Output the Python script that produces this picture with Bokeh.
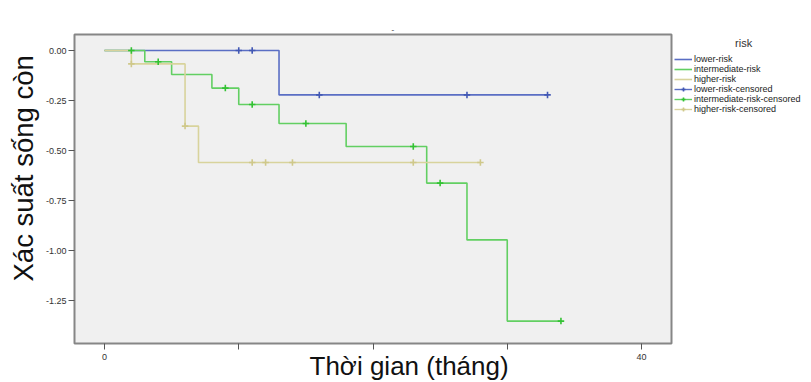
import math
from bokeh.plotting import figure
from bokeh.models import (Range1d, FixedTicker, NumeralTickFormatter, Title,
                          Legend, LegendItem)
from bokeh.embed import file_html
from bokeh.resources import INLINE

# ---- data ----
low_t = [0, 13, 33]
low_s = [0.0, -0.222, -0.222]
low_ct = [10, 11, 16, 27, 33]
low_cs = [0.0, 0.0, -0.222, -0.222, -0.222]

mid_t = [0, 3, 5, 8, 10, 13, 18, 24, 27, 30, 34]
mid_s = [0.0, -0.056, -0.12, -0.188, -0.27, -0.365, -0.48, -0.663, -0.947, -1.353, -1.353]
mid_ct = [2, 4, 9, 11, 15, 23, 25, 34]
mid_cs = [0.0, -0.056, -0.188, -0.27, -0.365, -0.48, -0.663, -1.353]

high_t = [0, 2, 6, 7, 28]
high_s = [0.0, -0.067, -0.378, -0.56, -0.56]
high_ct = [2, 6, 11, 12, 14, 23, 28]
high_cs = [-0.067, -0.378, -0.56, -0.56, -0.56, -0.56, -0.56]

x_ticks = [0, 10, 20, 30, 40]
y_ticks = [0.0, -0.25, -0.5, -0.75, -1.0, -1.25]

series_names = ["lower-risk", "intermediate-risk", "higher-risk"]
line_colors = ["#5a6ec4", "#62cf62", "#d8d39c"]
mark_colors = ["#4258b4", "#33c233", "#cfc88a"]

FONT = "Liberation Sans"
NAN = float("nan")

p = figure(frame_width=597, frame_height=309, output_backend="svg",
           toolbar_location=None,
           x_range=Range1d(-2.235, 42.235), y_range=Range1d(-1.465, 0.08),
           min_border_left=74, min_border_top=34, min_border_right=140,
           min_border_bottom=39)
p.background_fill_color = "#f0f0f0"
p.border_fill_color = "white"
p.outline_line_color = "#868686"
p.outline_line_width = 2
p.grid.visible = False

p.title.text = "-"
p.title.align = "left"
p.title.offset = 317
p.title.standoff = 6
p.title.text_font = FONT
p.title.text_font_size = "8px"
p.title.text_color = "#777777"

for ax in (p.xaxis[0], p.yaxis[0]):
    ax.axis_line_color = None
    ax.major_tick_in = 0
    ax.major_tick_out = 6
    ax.major_tick_line_color = "#555555"
    ax.minor_tick_line_color = None
    ax.major_label_text_font = FONT
    ax.major_label_text_font_size = "9px"
    ax.major_label_text_color = "#333333"
    ax.major_label_standoff = 2

p.xaxis.ticker = FixedTicker(ticks=x_ticks)
p.xaxis.major_label_overrides = {10: " ", 20: " ", 30: " "}
p.yaxis.ticker = FixedTicker(ticks=y_ticks)
p.yaxis.formatter = NumeralTickFormatter(format="0.00")

steps = [(low_t, low_s), (mid_t, mid_s), (high_t, high_s)]
cens = [(low_ct, low_cs), (mid_ct, mid_cs), (high_ct, high_cs)]

line_r = []
for (t, s), c in zip(steps, line_colors):
    line_r.append(p.step(t, s, mode="after", line_color=c, line_width=1.6))

mark_r = []
dummy_r = []
for (t, s), c, lc in zip(cens, mark_colors, line_colors):
    # legend-only line (a single NaN point draws nothing on the plot)
    dummy_r.append(p.line([NAN], [NAN], line_color=lc, line_width=1.4))
    mark_r.append(p.scatter(t, s, marker="cross", size=6.5, line_color=c,
                            line_width=1.6))

items = []
for n, r in zip(series_names, line_r):
    items.append(LegendItem(label=n, renderers=[r]))
for n, d, m in zip(series_names, dummy_r, mark_r):
    items.append(LegendItem(label=n + "-censored", renderers=[d, m]))

legend = Legend(items=items, location="top_left", orientation="vertical", ncols=1,
                padding=3, margin=0, spacing=0,
                glyph_width=18, glyph_height=10, label_height=10, label_standoff=2,
                label_text_font=FONT, label_text_font_size="9px",
                label_text_line_height=1.0,
                label_text_color="#222222",
                title="\u00a0" * 20 + "risk", title_text_font=FONT,
                title_text_font_size="11px", title_text_color="#333333",
                title_text_font_style="normal", title_standoff=5,
                background_fill_alpha=0, border_line_alpha=0)
p.add_layout(legend, "right")

xl = Title(text="Thời gian (tháng)", align="left", offset=235, vertical_align="top",
           standoff=-27, text_font=FONT, text_font_size="26px",
           text_font_style="normal", text_color="#111111")
p.add_layout(xl, "below")

yl = Title(text="Xác suất sống còn", align="left", offset=62, vertical_align="bottom",
           standoff=8, text_font=FONT, text_font_size="27.5px",
           text_font_style="normal", text_color="#111111")
p.add_layout(yl, "left")

open("out.html", "w").write(file_html(p, INLINE))
